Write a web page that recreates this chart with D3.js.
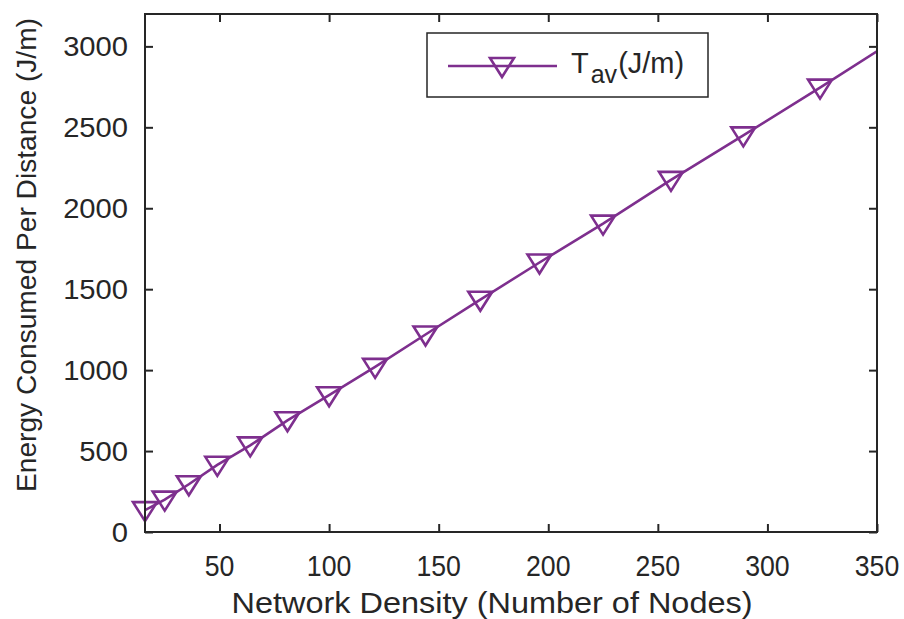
<!DOCTYPE html>
<html>
<head>
<meta charset="utf-8">
<script src="https://cdn.jsdelivr.net/npm/d3@7"></script>
<style>
  body { margin: 0; background: #fff; }
  text { font-family: "Liberation Sans", Arial, sans-serif; fill: #262626; }
</style>
</head>
<body>
<div id="chart"></div>
<script>
// nodes in the network (squares 4^2 .. 19^2, last one lies past the x limit)
var nodes = [16, 25, 36, 49, 64, 81, 100, 121, 144, 169, 196, 225, 256, 289, 324, 361];
// energy consumed per distance, J/m
var tav = [135, 200, 295, 415, 535, 690, 845, 1020, 1220, 1435, 1665, 1905, 2175, 2450, 2745, 3065];
var xTicks = [50, 100, 150, 200, 250, 300, 350];
var yTicks = [0, 500, 1000, 1500, 2000, 2500, 3000];

var W = 904, H = 619;
var m = {left: 145, right: 877, top: 14, bottom: 532};
var purple = "#7e2f8e", ink = "#262626";

var svg = d3.select("#chart").append("svg")
    .attr("width", W)
    .attr("height", H);

var x = d3.scaleLinear().domain([16, 350]).range([m.left, m.right]);
var y = d3.scaleLinear().domain([0, 3200]).range([m.bottom, m.top]);

svg.append("clipPath").attr("id", "clip")
  .append("rect")
    .attr("x", m.left).attr("y", m.top)
    .attr("width", m.right - m.left).attr("height", m.bottom - m.top);

// inward ticks on all four sides
var tl = 8;
function tickStyle(g) {
  g.select(".domain").remove();
  g.selectAll(".tick line").attr("stroke", ink).attr("stroke-width", 2);
}
svg.append("g").attr("transform", "translate(0," + m.bottom + ")")
  .call(d3.axisTop(x).tickValues(xTicks).tickSize(tl).tickFormat(""))
  .call(tickStyle);
svg.append("g").attr("transform", "translate(0," + m.top + ")")
  .call(d3.axisBottom(x).tickValues(xTicks).tickSize(tl).tickFormat(""))
  .call(tickStyle);
svg.append("g").attr("transform", "translate(" + m.left + ",0)")
  .call(d3.axisRight(y).tickValues(yTicks).tickSize(tl).tickFormat(""))
  .call(tickStyle);
svg.append("g").attr("transform", "translate(" + m.right + ",0)")
  .call(d3.axisLeft(y).tickValues(yTicks).tickSize(tl).tickFormat(""))
  .call(tickStyle);

// tick labels (x ones a little condensed, y ones a little wide, as in the picture)
svg.append("g").selectAll("text")
  .data(xTicks).enter().append("text")
    .attr("transform", function(d) { return "translate(" + x(d) + ",576) scale(0.92,1)"; })
    .attr("text-anchor", "middle")
    .style("font-size", "29px")
    .text(function(d) { return d; });
svg.append("g").selectAll("text")
  .data(yTicks).enter().append("text")
    .attr("transform", function(d) { return "translate(128," + (y(d) + 10) + ") scale(1.08,1)"; })
    .attr("text-anchor", "end")
    .style("font-size", "27px")
    .text(function(d) { return d; });

// axis titles
svg.append("text")
    .attr("x", 492).attr("y", 613)
    .attr("text-anchor", "middle")
    .attr("textLength", 521).attr("lengthAdjust", "spacingAndGlyphs")
    .style("font-size", "29px")
    .text("Network Density (Number of Nodes)");
svg.append("text")
    .attr("transform", "translate(36,255) rotate(-90)")
    .attr("text-anchor", "middle")
    .attr("textLength", 474).attr("lengthAdjust", "spacingAndGlyphs")
    .style("font-size", "27px")
    .text("Energy Consumed Per Distance (J/m)");

// series
var pts = nodes.map(function(n, i) { return [n, tav[i]]; });
var plot = svg.append("g").attr("clip-path", "url(#clip)");
plot.append("path")
    .datum(pts)
    .attr("fill", "none")
    .attr("stroke", purple)
    .attr("stroke-width", 2.6)
    .attr("d", d3.line().x(function(d) { return x(d[0]); }).y(function(d) { return y(d[1]); }));

// downward triangle marker, centred on the point
function tri(cx, cy) {
  return "M" + (cx - 12) + "," + (cy - 8) + "L" + (cx + 12) + "," + (cy - 8) +
         "L" + cx + "," + (cy + 11) + "Z";
}
svg.append("g").selectAll("path")
  .data(pts.filter(function(d) { return d[0] <= 350; })).enter().append("path")
    .attr("d", function(d) { return tri(x(d[0]), y(d[1])); })
    .attr("fill", "none")
    .attr("stroke", purple)
    .attr("stroke-width", 2.6);

// box
svg.append("rect")
    .attr("x", m.left).attr("y", m.top)
    .attr("width", m.right - m.left).attr("height", m.bottom - m.top)
    .attr("fill", "none").attr("stroke", ink).attr("stroke-width", 2);

// legend
var lg = svg.append("g");
lg.append("rect")
    .attr("x", 427).attr("y", 33).attr("width", 281).attr("height", 64)
    .attr("fill", "#fff").attr("stroke", ink).attr("stroke-width", 1.5);
lg.append("line")
    .attr("x1", 448).attr("x2", 557).attr("y1", 66).attr("y2", 66)
    .attr("stroke", purple).attr("stroke-width", 2.6);
lg.append("path")
    .attr("d", tri(502, 66))
    .attr("fill", "none").attr("stroke", purple).attr("stroke-width", 2.6);
var lt = lg.append("text").attr("x", 571).attr("y", 73).style("font-size", "29px");
lt.append("tspan").text("T");
lt.append("tspan").attr("dx", 2).attr("dy", 10).style("font-size", "25px").text("av");
lt.append("tspan").attr("dx", 1).attr("dy", -10).text("(J/m)");
</script>
</body>
</html>
